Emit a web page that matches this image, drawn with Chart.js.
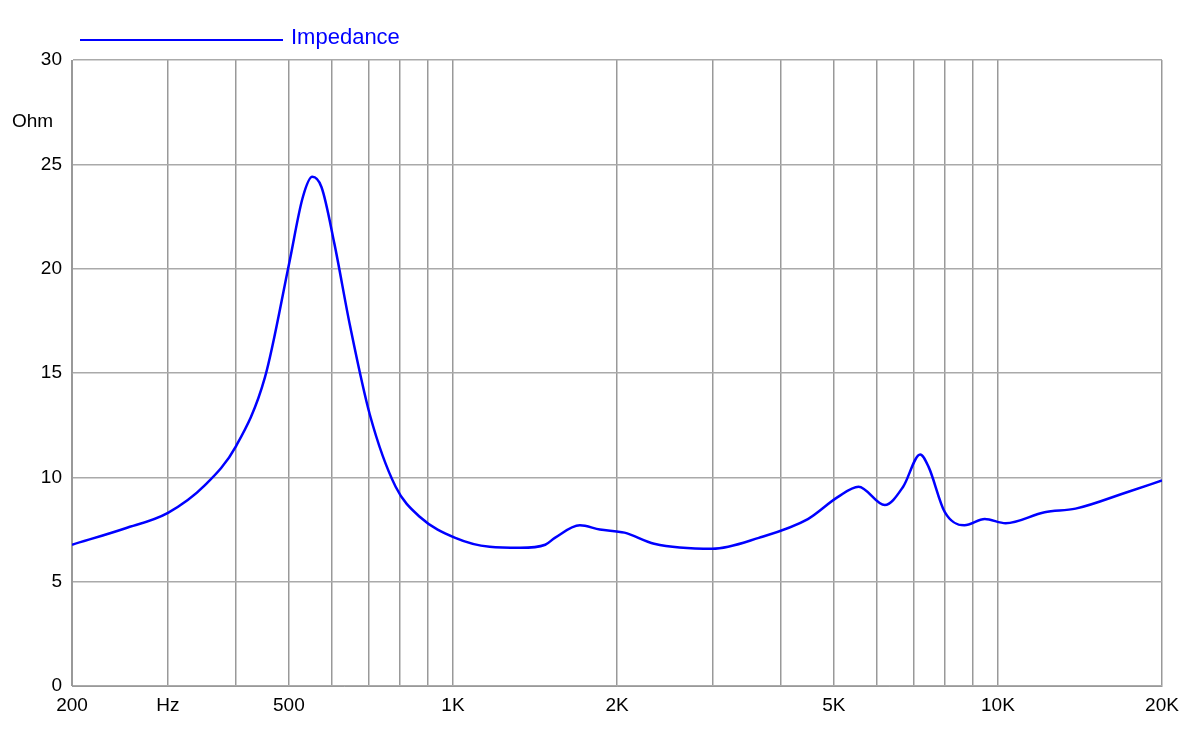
<!DOCTYPE html>
<html><head><meta charset="utf-8">
<script src="https://cdn.jsdelivr.net/npm/chart.js@4"></script>
<style>html,body{margin:0;background:#fff}#wrap{width:1200px;height:740px}</style>
</head><body><div id="wrap"><canvas id="c"></canvas></div>
<script>
// impedance curve
const freqs = [200,250,300,350,400,452,501,530,552,574,606,647,704,785,870,1010,1168,1329,1477,1538,1710,1860,2064,2340,2990,3640,4480,5080,5550,6200,6700,7200,7460,7990,8680,9460,10330,12180,13880,17300,20000];
const ohms  = [6.77,7.55,8.3,9.6,11.5,14.8,20.3,23.4,24.4,23.9,21.2,17.3,13,9.55,8.1,7.1,6.67,6.62,6.77,7.1,7.7,7.5,7.35,6.82,6.58,7.1,8.0,9.05,9.55,8.67,9.55,11.1,10.5,8.33,7.7,8.0,7.8,8.33,8.5,9.3,9.85];
const gridFreqs = [200,300,400,500,600,700,800,900,1000,2000,3000,4000,5000,6000,7000,8000,9000,10000,20000];
const xLabels = {200:'200',300:'Hz',500:'500',1000:'1K',2000:'2K',5000:'5K',10000:'10K',20000:'20K'};

const font = { family: 'Liberation Sans, Arial', size: 19 };

const extras = {
  id: 'extras',
  afterDraw(chart) {
    const ctx = chart.ctx;
    ctx.save();
    ctx.font = '19px Liberation Sans, Arial';
    ctx.fillStyle = '#000';
    ctx.textBaseline = 'middle';
    ctx.fillText('Ohm', 12, 122);
    // legend
    ctx.strokeStyle = '#0000ff';
    ctx.lineWidth = 2;
    ctx.beginPath(); ctx.moveTo(80, 40); ctx.lineTo(283, 40); ctx.stroke();
    ctx.fillStyle = '#0000ff';
    ctx.font = '22px Liberation Sans, Arial';
    ctx.fillText('Impedance', 291, 38);
    ctx.restore();
  }
};

new Chart(document.getElementById('c'), {
  type: 'line',
  data: { datasets: [{
    label: 'Impedance',
    data: freqs.map((f, i) => ({ x: f, y: ohms[i] })),
    borderColor: '#0000ff', backgroundColor: '#0000ff',
    borderWidth: 2.5, pointRadius: 0, cubicInterpolationMode: 'monotone'
  }] },
  options: {
    responsive: true, maintainAspectRatio: false, animation: false,
    layout: { padding: { left: 0, right: 38, top: 60 } },
    plugins: { tooltip: { enabled: false }, legend: { display: false } },
    scales: {
      x: {
        type: 'logarithmic', min: 200, max: 20000,
        afterBuildTicks: s => { s.ticks = gridFreqs.map(v => ({ value: v })); },
        afterFit: s => { s.height = 54; },
        ticks: { autoSkip: false, maxRotation: 0, color: '#000', font, padding: 8,
          callback: v => xLabels[v] || '' },
        grid: { color: '#999', lineWidth: 1.5, drawTicks: false },
        border: { color: '#999' }
      },
      y: {
        min: 0, max: 30,
        afterFit: s => { s.width = 72; },
        ticks: { stepSize: 5, color: '#000', font, padding: 10 },
        grid: { color: '#aaa', lineWidth: 1.5, drawTicks: false },
        border: { color: '#999' }
      }
    }
  },
  plugins: [extras]
});
</script></body></html>
